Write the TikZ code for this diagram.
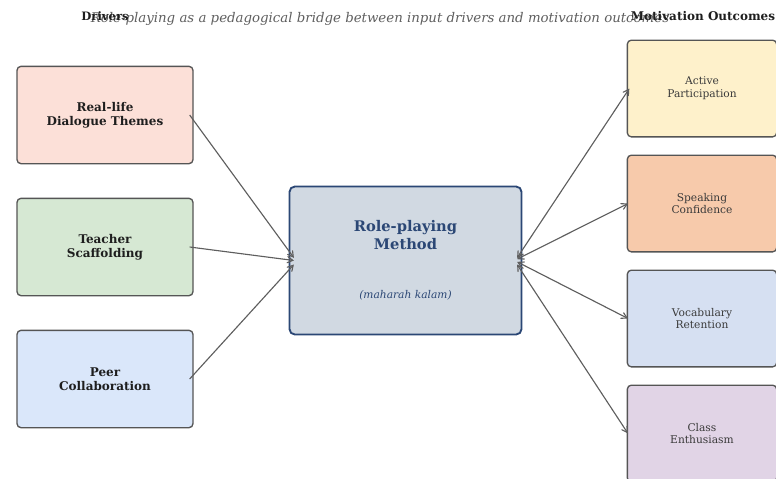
\documentclass[tikz,border=0pt]{standalone}
\usepackage{fontspec}
\setmainfont{DejaVu Serif}
\usetikzlibrary{positioning, arrows}
\definecolor{edgegray}{HTML}{555555}
\definecolor{linkgray}{HTML}{5E5E5E}
\definecolor{textdark}{HTML}{1E1E1E}
\definecolor{textsoft}{HTML}{3A3A3A}
\definecolor{titlegray}{HTML}{5F5F5F}
\definecolor{methodblue}{HTML}{2B4775}
\definecolor{methodfill}{HTML}{D1D9E2}
\definecolor{rlfill}{HTML}{FCE0D8}
\definecolor{tsfill}{HTML}{D6E8D3}
\definecolor{pcfill}{HTML}{DAE7FA}
\definecolor{apfill}{HTML}{FEF1CB}
\definecolor{scfill}{HTML}{F7CAAB}
\definecolor{vrfill}{HTML}{D6E0F2}
\definecolor{cefill}{HTML}{E1D4E6}
\tikzset{
    >=angle 60, % open arrow heads like the plot
    driver/.style={draw=edgegray, line width=1pt, rounded corners=3pt, minimum width=132pt, minimum height=73pt, align=center, text=textdark, font=\bfseries\fontsize{9}{10.5}\selectfont, node distance=99pt}, % boxes on the left
    outcome/.style={draw=edgegray, line width=1pt, rounded corners=3pt, minimum width=112pt, minimum height=72.5pt, align=center, text=textsoft, font=\fontsize{8}{9.5}\selectfont, node distance=86.25pt}, % boxes on the right
    method/.style={draw=methodblue, line width=1.4pt, rounded corners=4pt, fill=methodfill, minimum width=174pt, minimum height=111pt, align=center, text=methodblue, font=\bfseries\fontsize{11}{13.5}\selectfont}, % the middle box
    heading/.style={font=\bfseries\fontsize{8.7}{10}\selectfont, text=textdark}, % column titles
    link/.style={->, draw=linkgray, line width=0.85pt}, % driver to method
    twoway/.style={<->, draw=linkgray, line width=0.85pt}, % method to outcome
}
\newcommand{\subnote}{\mdseries\itshape\fontsize{8}{9.5}\selectfont}
\begin{document}
\begin{tikzpicture}[x=0.75pt, y=-0.75pt]
\useasboundingbox (0,0) rectangle (776,479);

% titles
\node[font=\itshape\fontsize{10}{12}\selectfont, text=titlegray] (title) at (380,19) {Role-playing as a pedagogical bridge between input drivers and motivation outcomes};
\node[heading] (hdrv) at (105,16) {Drivers};
\node[heading, font=\bfseries\fontsize{9}{10}\selectfont] (hout) at (703,16) {Motivation Outcomes};

% drivers
\node[driver, fill=rlfill]              (rl) at (105,115) {Real-life\\Dialogue Themes};
\node[driver, fill=tsfill, below of=rl] (ts) {Teacher\\Scaffolding};
\node[driver, fill=pcfill, below of=ts] (pc) {Peer\\Collaboration};

% method
\node[method] (rp) at (405.5,260.5) {Role-playing\\Method\\[23pt]\subnote (maharah kalam)};

% outcomes
\node[outcome, fill=apfill]              (ap) at (702,88.5) {Active\\Participation};
\node[outcome, fill=scfill, below of=ap] (sc) {Speaking\\Confidence};
\node[outcome, fill=vrfill, below of=sc] (vr) {Vocabulary\\Retention};
\node[outcome, fill=cefill, below of=vr] (ce) {Class\\Enthusiasm};

\draw[link] ([xshift=-3pt]rl.east) -- ([xshift=4pt,yshift=2pt]rp.west);
\draw[link] ([xshift=-3pt]ts.east) -- ([xshift=4pt]rp.west);
\draw[link] ([xshift=-3pt]pc.east) -- ([xshift=4pt,yshift=-3pt]rp.west);
\draw[twoway] ([xshift=-4pt,yshift=2pt]rp.east) -- ([xshift=2pt]ap.west);
\draw[twoway] ([xshift=-4pt,yshift=1pt]rp.east) -- ([xshift=1pt]sc.west);
\draw[twoway] ([xshift=-4pt,yshift=-1pt]rp.east) -- ([xshift=1pt]vr.west);
\draw[twoway] ([xshift=-4pt,yshift=-3pt]rp.east) -- ([xshift=1pt]ce.west);
\end{tikzpicture}
\end{document}
